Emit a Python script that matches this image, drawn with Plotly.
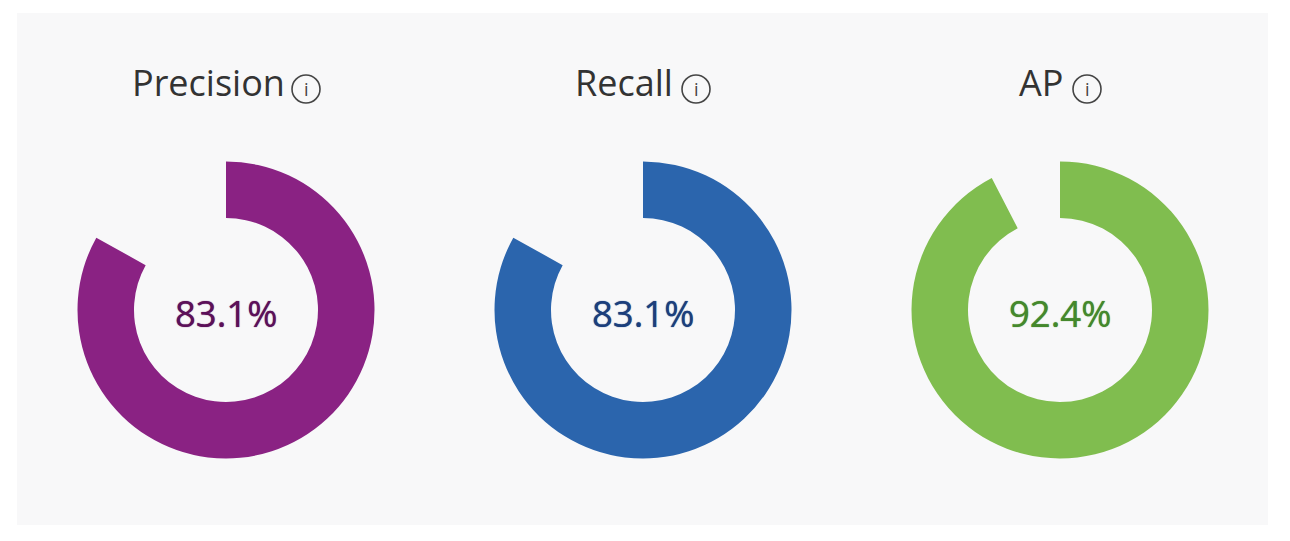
import plotly.graph_objects as go

metrics = ["Precision", "Recall", "AP"]
values = [83.1, 83.1, 92.4]
colors = ["#8a2283", "#2b65ad", "#80bd4f"]
text_colors = ["#5c1059", "#1c3f7c", "#44882c"]
center_x_px = [226, 643, 1060]
title_x = [130, 573, 1017]
icon_x_px = [306, 696, 1087]

W, H = 1290, 541
cy, R = 310, 148.5

fig = go.Figure()
annotations = []
shapes = [dict(type="rect", xref="paper", yref="paper", layer="below",
               x0=17 / W, x1=1268 / W, y0=1 - 525 / H, y1=1 - 13 / H,
               fillcolor="#f8f8f9", line_width=0)]

def text(x, y, s, size, color, anchor="center", shadow="none"):
    annotations.append(dict(x=x / W, y=1 - y / H, xref="paper", yref="paper",
                            text=s, showarrow=False, xanchor=anchor, yanchor="middle",
                            font=dict(family="Open Sans", size=size, color=color, shadow=shadow)))

for i, m in enumerate(metrics):
    cx = center_x_px[i]
    fig.add_trace(go.Pie(
        values=[values[i], 100 - values[i]],
        labels=[m, "rest"],
        hole=92 / 148.5,
        sort=False, direction="clockwise", rotation=0,
        marker=dict(colors=[colors[i], "rgba(0,0,0,0)"], line_width=0),
        textinfo="none", hoverinfo="skip", showlegend=False,
        domain=dict(x=[(cx - R) / W, (cx + R) / W],
                    y=[1 - (cy + R) / H, 1 - (cy - R) / H]),
    ))
    text(cx, 313, f"{values[i]}%", 36.5, text_colors[i], shadow=f"0 0 1px {text_colors[i]}")
    text(title_x[i], 82.5, m, 36, "#333333", "left")
    ix = icon_x_px[i]
    shapes.append(dict(type="circle", xref="paper", yref="paper",
                       x0=(ix - 14) / W, x1=(ix + 14) / W,
                       y0=1 - (89 + 14) / H, y1=1 - (89 - 14) / H,
                       line=dict(color="#444444", width=1.6), fillcolor="rgba(0,0,0,0)"))
    text(ix, 89, "i", 18, "#444444")

fig.update_layout(width=W, height=H, margin=dict(l=0, r=0, t=0, b=0),
                  paper_bgcolor="white", plot_bgcolor="white",
                  shapes=shapes, annotations=annotations)
fig.write_html("out.html", config=dict(displayModeBar=False),
               post_script="document.body.style.margin='0';")
